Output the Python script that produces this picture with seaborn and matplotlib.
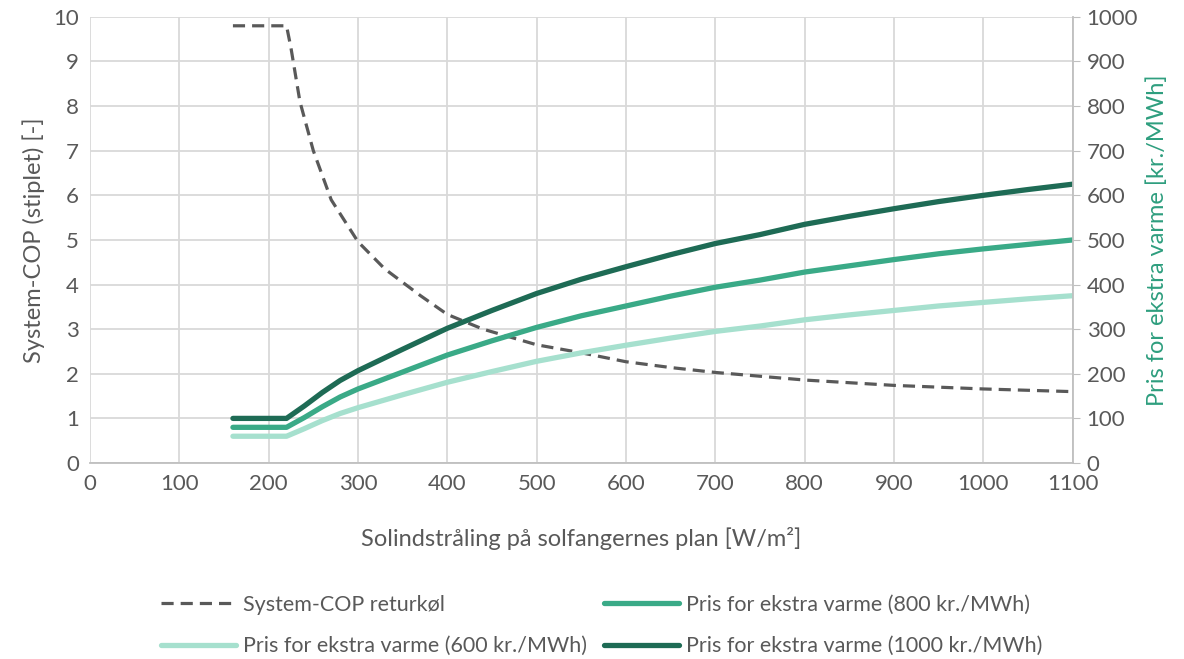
import matplotlib
matplotlib.use("Agg")
import matplotlib.pyplot as plt
import seaborn as sns
import pandas as pd

# Values
cop_x = [160, 220, 225, 235, 250, 270, 300, 330, 370, 400, 440, 500, 550, 600,
         650, 700, 800, 900, 1000, 1100]
cop_y = [9.8, 9.8, 9.3, 8.1, 7.0, 5.9, 4.96, 4.35, 3.75, 3.33, 3.0, 2.65, 2.47,
         2.27, 2.14, 2.03, 1.86, 1.74, 1.66, 1.60]

price_x = [160, 220, 240, 260, 280, 300, 350, 400, 450, 500, 550, 600, 650, 700,
           750, 800, 850, 900, 950, 1000, 1050, 1100]
price_600 = [60, 60, 77, 95, 111, 124, 153, 181, 205, 228, 247, 264, 280, 295,
             307, 321, 332, 342, 352, 360, 368, 375]
price_800 = [80, 80, 102, 126, 148, 166, 204, 242, 274, 304, 330, 352, 374, 394,
             410, 428, 442, 456, 469, 480, 490, 500]
price_1000 = [100, 100, 128, 158, 185, 207, 255, 302, 342, 380, 412, 440, 467, 492,
              512, 535, 553, 570, 586, 600, 613, 625]

labels = ["System-COP returkøl",
          "Pris for ekstra varme (600 kr./MWh)",
          "Pris for ekstra varme (800 kr./MWh)",
          "Pris for ekstra varme (1000 kr./MWh)"]

sns.set_style("white")
plt.rcParams["font.family"] = ["Lato", "DejaVu Sans"]

gray = "#595959"
grid_c = "#d9d9d9"
c600 = "#a6e0ce"
c800 = "#3aaa87"
c1000 = "#1e6b55"

fig = plt.figure(figsize=(11.84, 6.59), dpi=100)
ax = fig.add_axes([0.076, 0.2974, 0.830, 0.677])
ax2 = ax.twinx()

cop_df = pd.DataFrame({"x": cop_x, "y": cop_y})
sns.lineplot(data=cop_df, x="x", y="y", ax=ax, color=gray, lw=2.3,
             linestyle=(0, (3.8, 2.2)), label=labels[0], legend=False)

for vals, col, lab in [(price_600, c600, labels[1]), (price_800, c800, labels[2]),
                       (price_1000, c1000, labels[3])]:
    df = pd.DataFrame({"x": price_x, "y": vals})
    sns.lineplot(data=df, x="x", y="y", ax=ax2, color=col, lw=3.8,
                 solid_capstyle="round", label=lab, legend=False)

ax.set_xlim(0, 1100)
ax.set_ylim(0, 10)
ax2.set_ylim(0, 1000)
ax.set_xticks(range(0, 1101, 100))
ax.set_yticks(range(0, 11))
ax2.set_yticks(range(0, 1001, 100))

ax.grid(True, color=grid_c, lw=1.3)
ax.set_axisbelow(True)
for s in ["top", "left"]:
    ax.spines[s].set_visible(False)
    ax2.spines[s].set_visible(False)
ax.spines["right"].set_visible(False)
ax2.spines["bottom"].set_visible(False)
ax.spines["bottom"].set_color("#bfbfbf")
ax.spines["bottom"].set_linewidth(1.3)
ax2.spines["right"].set_color("#bfbfbf")
ax2.spines["right"].set_linewidth(1.3)

ax.tick_params(axis="both", length=0, labelsize=16, labelcolor=gray, pad=8)
ax2.tick_params(axis="y", length=5, color="#bfbfbf", labelsize=16,
                labelcolor=gray, pad=5)

ax.set_xlabel("Solindstråling på solfangernes plan [W/m²]", fontsize=17,
              color=gray, labelpad=24)
ax.set_ylabel("System-COP (stiplet) [-]", fontsize=17, color=gray, labelpad=6)
ax2.set_ylabel("Pris for ekstra varme [kr./MWh]", fontsize=17, color="#2e9e7e",
               labelpad=6)

h1, l1 = ax.get_legend_handles_labels()
h2, l2 = ax2.get_legend_handles_labels()
fig.legend(h1 + h2, l1 + l2, loc="center", bbox_to_anchor=(0.508, 0.051), ncol=2,
           frameon=False, fontsize=15.5, labelcolor=gray, handlelength=3.5,
           columnspacing=0.8, handletextpad=0.3, labelspacing=1.0)

fig.savefig("out.png", dpi=100)
